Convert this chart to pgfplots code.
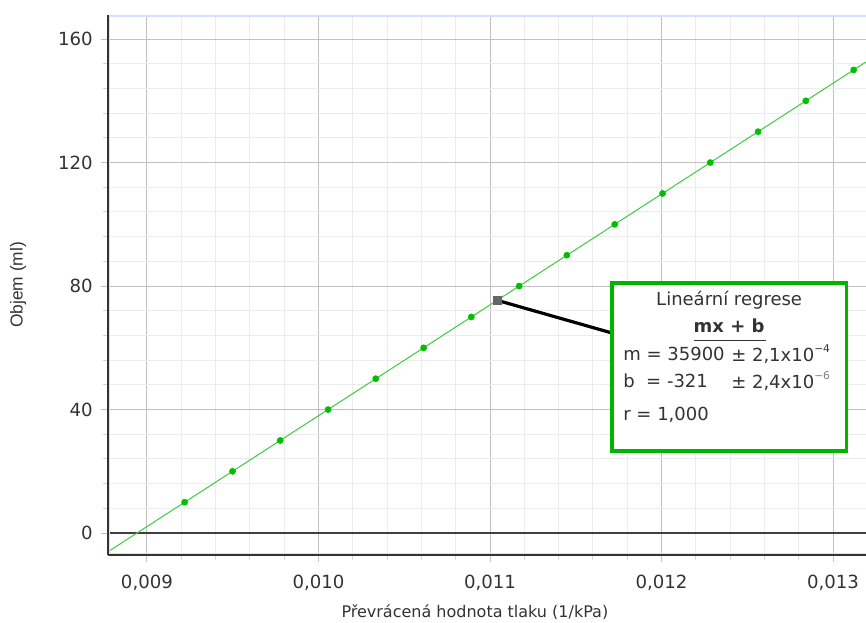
\documentclass[border=0pt]{standalone}
\usepackage{pgfplots}
\pgfplotsset{compat=1.18}
\usepackage{fontspec}
\setmainfont{DejaVu Sans}
\newfontfamily\arialfont{Liberation Sans}
\definecolor{ptgreen}{RGB}{0,190,0}
\definecolor{linegreen}{RGB}{70,205,70}
\definecolor{boxgreen}{RGB}{0,180,0}
\definecolor{txt}{RGB}{51,51,51}
\definecolor{majgrid}{RGB}{192,192,192}
\definecolor{mingrid}{RGB}{236,236,236}
\definecolor{lblue}{RGB}{215,222,255}
\begin{document}
\begin{tikzpicture}[x=1pt,y=1pt]
\useasboundingbox (-81,-51) rectangle (568.5,416.25);
\begin{axis}[
  at={(0,0)}, anchor=south west,
  scale only axis, width=568.5pt, height=405pt,
  xmin=8.773, xmax=13.192, ymin=-7.1, ymax=167.8,
  xtick={9,10,11,12,13},
  xticklabels={{0,009},{0,010},{0,011},{0,012},{0,013}},
  ytick={0,40,80,120,160},
  minor x tick num=4, minor y tick num=4,
  grid=both,
  major grid style={majgrid, line width=0.75pt},
  minor grid style={mingrid, line width=0.75pt},
  axis line style={draw=none},
  tick align=outside, tick pos=left,
  major tick length=5.5pt, minor tick length=3.5pt,
  every major tick/.style={majgrid, line width=0.75pt},
  every minor tick/.style={mingrid!80!gray, line width=0.75pt},
  /pgf/number format/assume math mode=true,
  tick label style={font=\fontsize{13.6}{16}\selectfont, text=txt},
  xticklabel style={yshift=-6pt},
  yticklabel style={xshift=-2.5pt},
  xlabel={Převrácená hodnota tlaku (1/kPa)},
  ylabel={Objem (ml)},
  xlabel style={font=\fontsize{12}{14}\selectfont, text=txt, at={(axis description cs:0.484,-0.1056)}, anchor=center},
  ylabel style={font=\arialfont\fontsize{13}{14}\selectfont, text=txt, at={(axis description cs:-0.1187,0.5)}, anchor=center, rotate=0},
  clip=false,
  axis on top=false,
]
% zero line
\addplot[black!75, line width=1pt] coordinates {(8.773,0) (13.192,0)};
% regression line
\addplot[linegreen, line width=0.8pt] coordinates {(8.773,-6.05) (13.192,152.59)};
% data points
\addplot[only marks, mark=*, mark size=2.3pt, mark options={fill=ptgreen, draw=ptgreen}] coordinates {
(9.220,10) (9.499,20) (9.777,30) (10.056,40) (10.334,50) (10.613,60) (10.891,70)
(11.170,80) (11.448,90) (11.727,100) (12.006,110) (12.284,120) (12.563,130)
(12.841,140) (13.120,150)};
% connector
\draw[black, line width=2.4pt] (axis cs:11.041,75.4) -- (axis cs:11.711,64.8);
\addplot[only marks, mark=square*, mark size=2.8pt, mark options={fill=black!60, draw=black!60}] coordinates {(11.041,75.4)};
% box
\draw[boxgreen, line width=2.4pt, fill=white] (axis cs:11.711,81.0) rectangle (axis cs:13.076,26.6);
\node[text=txt, font=\fontsize{13.5}{16}\selectfont, anchor=center] at (axis cs:12.394,75.5) {Lineární regrese};
\node[text=txt, font=\bfseries\fontsize{13.5}{16}\selectfont, anchor=center] at (axis cs:12.394,67.0) {mx + b};
\draw[txt, line width=0.9pt] (axis cs:12.190,62.5) -- (axis cs:12.609,62.5);
\node[text=txt, font=\fontsize{13.5}{16}\selectfont, anchor=west, inner sep=0pt] at (axis cs:11.776,58.0) {m = 35900};
\node[text=txt, font=\fontsize{13.5}{16}\selectfont, anchor=west, inner sep=0pt] at (axis cs:12.405,58.0) {± 2,1x10\raisebox{0.9ex}{\fontsize{8}{9}\selectfont −4}};
\node[text=txt, font=\fontsize{13.5}{16}\selectfont, anchor=west, inner sep=0pt] at (axis cs:11.776,49.2) {b\ \ = -321};
\node[text=txt, font=\fontsize{13.5}{16}\selectfont, anchor=west, inner sep=0pt] at (axis cs:12.405,49.2) {± 2,4x10\raisebox{0.9ex}{\fontsize{8}{9}\selectfont\color{black!50}−6}};
\node[text=txt, font=\fontsize{13.5}{16}\selectfont, anchor=west, inner sep=0pt] at (axis cs:11.776,38.2) {r = 1,000};
% axis frame
\draw[lblue, line width=1.6pt] ([yshift=-0.9pt]rel axis cs:0,1) -- ([yshift=-0.9pt]rel axis cs:1,1);
\draw[lblue, line width=1.6pt] ([yshift=0.9pt]rel axis cs:0,0) -- ([yshift=0.9pt]rel axis cs:1,0);
\draw[lblue, line width=1.6pt] ([xshift=0.9pt]rel axis cs:0,0) -- ([xshift=0.9pt]rel axis cs:0,1);
\draw[black!80, line width=1.1pt] (rel axis cs:0,0) -- (rel axis cs:0,1);
\draw[black!80, line width=1.1pt] (rel axis cs:0,0) -- (rel axis cs:1,0);
\end{axis}
\end{tikzpicture}
\end{document}
